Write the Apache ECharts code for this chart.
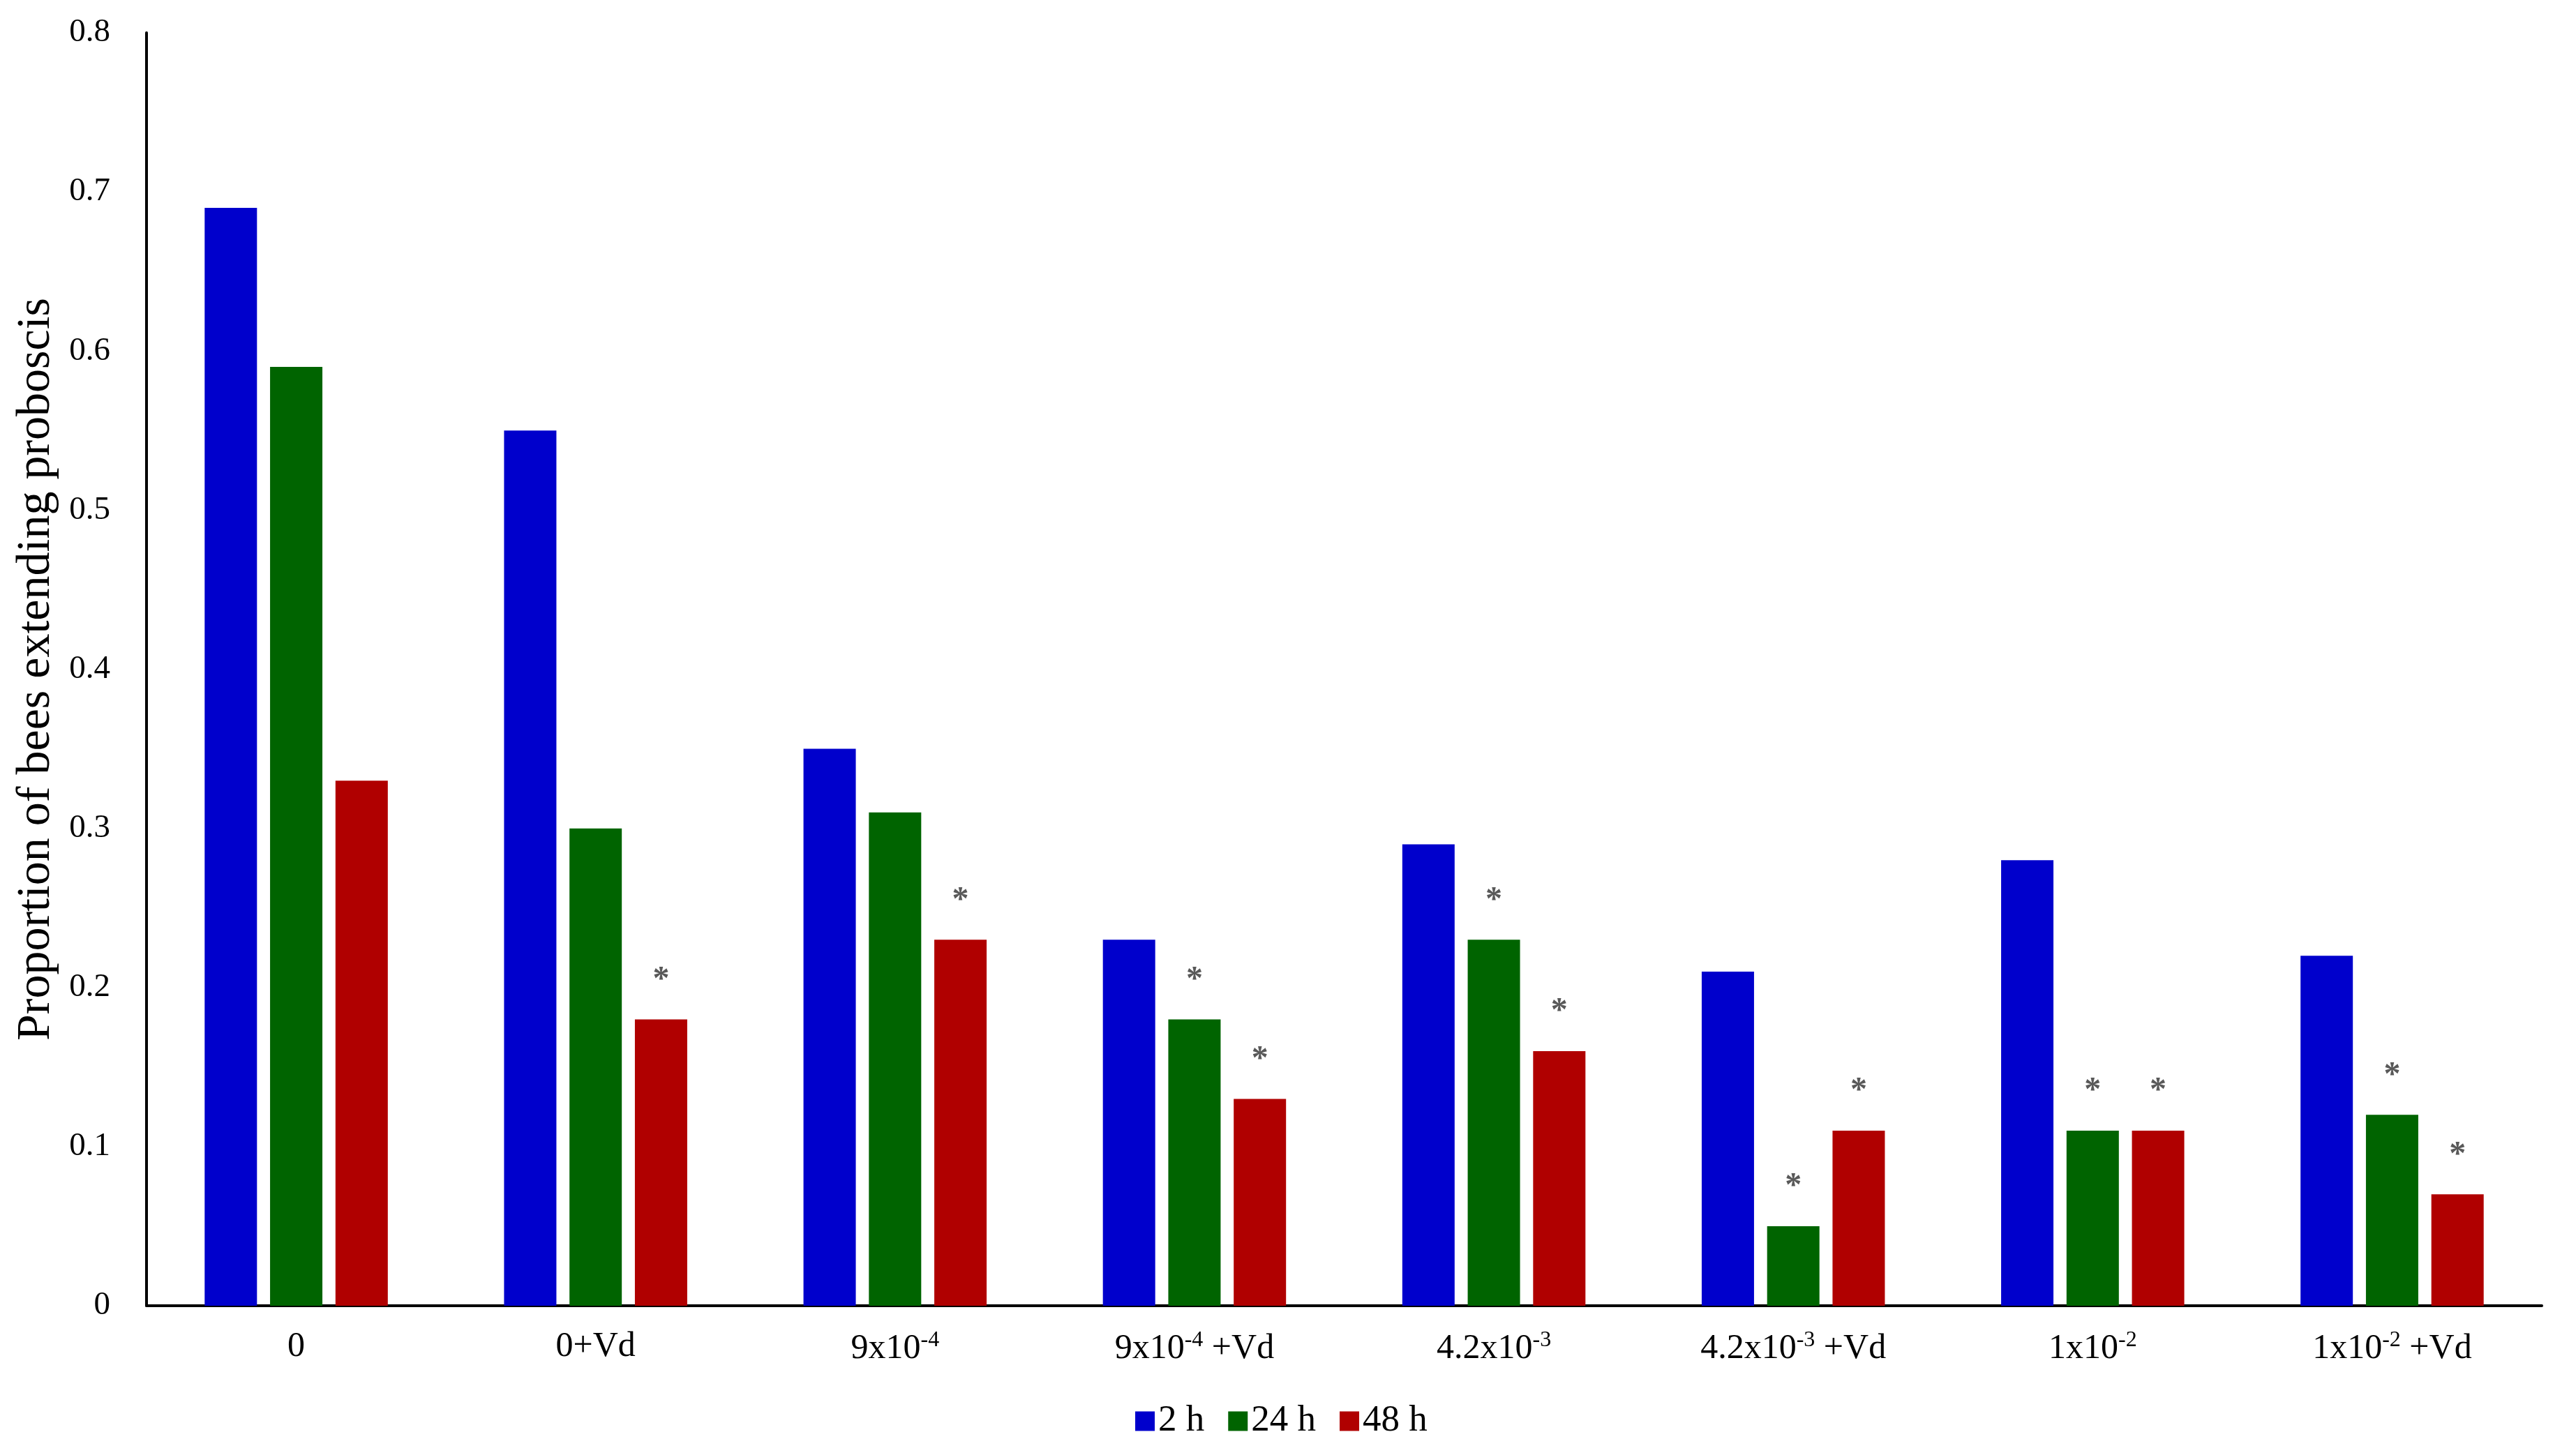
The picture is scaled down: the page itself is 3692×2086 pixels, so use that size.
<!DOCTYPE html>
<html><head><meta charset="utf-8">
<script src="https://cdn.jsdelivr.net/npm/echarts@6/dist/echarts.min.js"></script>
<style>html,body{margin:0;padding:0;background:#fff}#c{width:3692px;height:2086px}</style>
</head><body><div id="c"></div>
<script>
const categories = ['0', '0+Vd', '9x10{sup|-4}', '9x10{sup|-4} +Vd', '4.2x10{sup|-3}', '4.2x10{sup|-3} +Vd', '1x10{sup|-2}', '1x10{sup|-2} +Vd'];
const seriesNames = ['2 h', '24 h', '48 h'];
const values2h  = [0.69, 0.55, 0.35, 0.23, 0.29, 0.21, 0.28, 0.22];
const values24h = [0.59, 0.30, 0.31, 0.18, 0.23, 0.05, 0.11, 0.12];
const values48h = [0.33, 0.18, 0.23, 0.13, 0.16, 0.11, 0.11, 0.07];
const sig2h  = [false, false, false, false, false, false, false, false];
const sig24h = [false, false, false, true, true, true, true, true];
const sig48h = [false, true, true, true, true, true, true, true];
const yTicks = [0, 0.1, 0.2, 0.3, 0.4, 0.5, 0.6, 0.7, 0.8];
const colors = ['#0000CC', '#006400', '#B00000'];

const FONT = '"Liberation Serif", "Times New Roman", serif';
function mkData(vals, sig) {
  return vals.map((v, i) => ({
    value: v,
    label: { show: sig[i] }
  }));
}
const allVals = [values2h, values24h, values48h];
const allSig = [sig2h, sig24h, sig48h];
const series = seriesNames.map((name, k) => ({
  name: name,
  type: 'bar',
  data: mkData(allVals[k], allSig[k]),
  itemStyle: { color: colors[k] },
  barWidth: 75,
  barGap: '25%',
  label: {
    position: 'top',
    distance: 32,
    formatter: '*',
    color: '#595959',
    fontFamily: FONT,
    fontSize: 48,
    fontWeight: 'bold'
  },
  emphasis: { disabled: true }
}));

const chart = echarts.init(document.getElementById('c'));
chart.setOption({
  backgroundColor: '#fff',
  animation: false,
  color: colors,
  grid: { left: 210, right: 49, top: 47, bottom: 214, containLabel: false, outerBoundsMode: 'none' },
  legend: {
    data: seriesNames,
    top: 2006,
    left: 1622,
    icon: 'rect',
    itemWidth: 28,
    itemHeight: 28,
    itemGap: 34,
    textStyle: { fontFamily: FONT, fontSize: 53, color: '#000' }
  },
  xAxis: {
    type: 'category',
    data: categories,
    axisLine: { lineStyle: { color: '#000', width: 4 } },
    axisTick: { show: false },
    axisLabel: {
      interval: 0,
      margin: 34,
      fontFamily: FONT,
      fontSize: 50,
      color: '#000',
      formatter: v => v,
      rich: {
        sup: { fontFamily: FONT, fontSize: 32, color: '#000', padding: [0, 0, 24, 0] }
      }
    }
  },
  yAxis: {
    type: 'value',
    min: 0,
    max: 0.8,
    interval: 0.1,
    name: 'Proportion of bees extending proboscis',
    nameLocation: 'middle',
    nameGap: 124,
    nameTextStyle: { fontFamily: FONT, fontSize: 68, color: '#000' },
    axisLine: { show: true, lineStyle: { color: '#000', width: 4 } },
    axisTick: { show: false },
    splitLine: { show: false },
    axisLabel: {
      margin: 52,
      fontFamily: FONT,
      fontSize: 47,
      color: '#000',
      formatter: v => { const t = yTicks.find(x => Math.abs(x - v) < 1e-9); return t === 0 ? '0' : String(+(+v).toFixed(1)); }
    }
  },
  series: series
});
</script></body></html>
